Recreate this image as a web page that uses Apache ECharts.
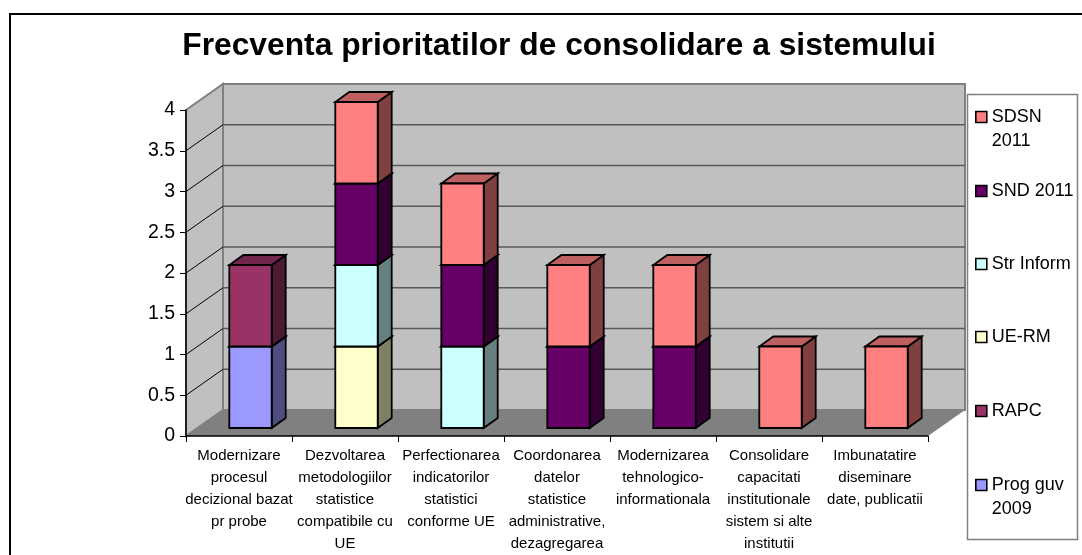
<!DOCTYPE html>
<html><head><meta charset="utf-8">
<style>html,body{margin:0;padding:0;background:#fff}#c{width:1082px;height:555px}</style>
<script src="https://cdn.jsdelivr.net/npm/echarts@6/dist/echarts.min.js"></script>
</head><body><div id="c"></div>
<script>
const categories = [
 "Modernizare\nprocesul\ndecizional bazat\npr probe",
 "Dezvoltarea\nmetodologiilor\nstatistice\ncompatibile cu\nUE",
 "Perfectionarea\nindicatorilor\nstatistici\nconforme UE",
 "Coordonarea\ndatelor\nstatistice\nadministrative,\ndezagregarea",
 "Modernizarea\ntehnologico-\ninformationala",
 "Consolidare\ncapacitati\ninstitutionale\nsistem si alte\ninstitutii",
 "Imbunatatire\ndiseminare\ndate, publicatii"
];
const seriesNames = ["Prog guv 2009","RAPC","UE-RM","Str Inform","SND 2011","SDSN 2011"];
const legendLabels = ["\nProg guv\n2009","RAPC","UE-RM","Str Inform","SND 2011","\nSDSN\n2011"];
const progGuv   = [1,0,0,0,0,0,0];
const rapc      = [1,0,0,0,0,0,0];
const ueRm      = [0,1,0,0,0,0,0];
const strInform = [0,1,1,0,0,0,0];
const snd2011   = [0,1,1,1,1,0,0];
const sdsn2011  = [0,1,1,1,1,1,1];
const seriesValues = [progGuv,rapc,ueRm,strInform,snd2011,sdsn2011];
const colors = ["#9999FF","#993366","#FFFFCC","#CCFFFF","#660066","#FF8080"];
const yTicks = [0,0.5,1,1.5,2,2.5,3,3.5,4];
const title = "Frecventa prioritatilor de consolidare a sistemului";

const FONT = '"Liberation Sans", Arial, sans-serif';
const W_DX = 37, W_DY = 26;      // wall depth
const B_OFF_X = 11.5, B_OFF_Y = 8; // bar offset into the floor
const B_DX = 14, B_DY = 10;      // bar depth

function shade(hex, k){
  const n = parseInt(hex.slice(1),16);
  const c = [n>>16&255,n>>8&255,n&255].map(v=>Math.round(v*k));
  return `rgb(${c.join(',')})`;
}
function poly(points, fill, stroke, lw, z2){
  return {type:'polygon', z2:z2||0, shape:{points}, style:{fill, stroke:stroke||null, lineWidth:lw||0, lineJoin:'miter'}};
}
function wallsItem(params, api){
  const cs = params.coordSys;
  const l = cs.x, r = cs.x+cs.width;
  const y0 = api.coord([0,0])[1], yT = api.coord([0,4])[1];
  const ch = [
    poly([[l+W_DX,yT-W_DY],[r+W_DX,yT-W_DY],[r+W_DX,y0-W_DY],[l+W_DX,y0-W_DY]],'#C0C0C0','#808080',2),
    poly([[l,yT],[l+W_DX,yT-W_DY],[l+W_DX,y0-W_DY],[l,y0]],'#C0C0C0','#808080',2),
    poly([[l,y0],[l+W_DX,y0-W_DY],[r+W_DX,y0-W_DY],[r,y0]],'#808080',null,0)
  ];
  yTicks.slice(1,-1).forEach(t=>{
    const y = api.coord([0,t])[1];
    ch.push({type:'line',z2:1,shape:{x1:l+W_DX,y1:y-W_DY,x2:r+W_DX,y2:y-W_DY},style:{stroke:'#5A5A5A',lineWidth:1.6}});
    ch.push({type:'line',z2:1,shape:{x1:l,y1:y,x2:l+W_DX,y2:y-W_DY},style:{stroke:'#000',lineWidth:1}});
  });
  return {type:'group',children:ch};
}
function barItem(color){
  return function(params, api){
    const i = api.value(0), lo = api.value(1), hi = api.value(2);
    if (hi<=lo) return null;
    const c0 = api.coord([i,lo]), c1 = api.coord([i,hi]);
    const w = api.size([1,0])[0]*0.4;
    const x0 = c0[0]-w/2+B_OFF_X, x1 = x0+w;
    const yb = c0[1]-B_OFF_Y, yt = c1[1]-B_OFF_Y;
    const s='#000', lw=1.8;
    return {type:'group',children:[
      poly([[x1,yb],[x1+B_DX,yb-B_DY],[x1+B_DX,yt-B_DY],[x1,yt]],shade(color,.5),s,lw),
      poly([[x0,yt],[x1,yt],[x1+B_DX,yt-B_DY],[x0+B_DX,yt-B_DY]],shade(color,.75),s,lw),
      poly([[x0,yb],[x1,yb],[x1,yt],[x0,yt]],color,s,lw)
    ]};
  };
}
let cum = categories.map(()=>0);
const barSeries = seriesNames.map((name,k)=>{
  const data = seriesValues[k].map((v,i)=>{const a=[i,cum[i],cum[i]+v];cum[i]+=v;return a;});
  return {type:'custom',name,coordinateSystem:'cartesian2d',z:6,
    itemStyle:{color:colors[k]},encode:{x:0,y:[1,2]},data,renderItem:barItem(colors[k])};
});
const legendTops = [449,399,325,252,179,81];
const legends = seriesNames.map((name,k)=>({
  data:[{name,icon:'rect'}],
  left:975, top:legendTops[k], orient:'vertical', padding:0, selectedMode:false,
  itemWidth:11,itemHeight:11,itemGap:0,
  itemStyle:{borderColor:'#000',borderWidth:1.6},
  formatter:()=>legendLabels[k],
  textStyle:{fontFamily:FONT,fontSize:18,color:'#000',lineHeight:24}
}));
const option = {
  animation:false, backgroundColor:'#fff',
  title:{text:title,left:554,top:25,textAlign:'center',textStyle:{fontFamily:FONT,fontWeight:'bold',fontSize:31.75,color:'#000'}},
  grid:{left:186,right:154,top:110,bottom:119},
  xAxis:{type:'category',data:categories,z:5,
    axisLine:{lineStyle:{color:'#000',width:1.5}},
    axisTick:{show:true,alignWithLabel:false,length:6,lineStyle:{color:'#000',width:1}},
    axisLabel:{interval:0,fontFamily:FONT,fontSize:15,color:'#000',lineHeight:22,margin:9,hideOverlap:false},
    splitLine:{show:false}},
  yAxis:{type:'value',min:0,max:4,interval:0.5,z:5,
    axisLine:{show:true,lineStyle:{color:'#000',width:1.5}},
    axisTick:{show:true,length:6,lineStyle:{color:'#000',width:1}},
    axisLabel:{fontFamily:FONT,fontSize:19.5,color:'#000',margin:11},
    splitLine:{show:false}},
  legend:legends,
  graphic:[
    {type:'rect',z:-1,shape:{x:10,y:14,width:1200,height:700},style:{fill:'#fff',stroke:'#000',lineWidth:2}},
    {type:'rect',z:0,shape:{x:967.5,y:94.5,width:110,height:445},style:{fill:'#fff',stroke:'#808080',lineWidth:1.5}}
  ],
  series:[{type:'custom',name:'walls',coordinateSystem:'cartesian2d',z:1,silent:true,data:[[0,0]],encode:{x:0,y:1},renderItem:wallsItem},...barSeries]
};
echarts.init(document.getElementById('c'),null,{renderer:'canvas'}).setOption(option);
</script></body></html>
